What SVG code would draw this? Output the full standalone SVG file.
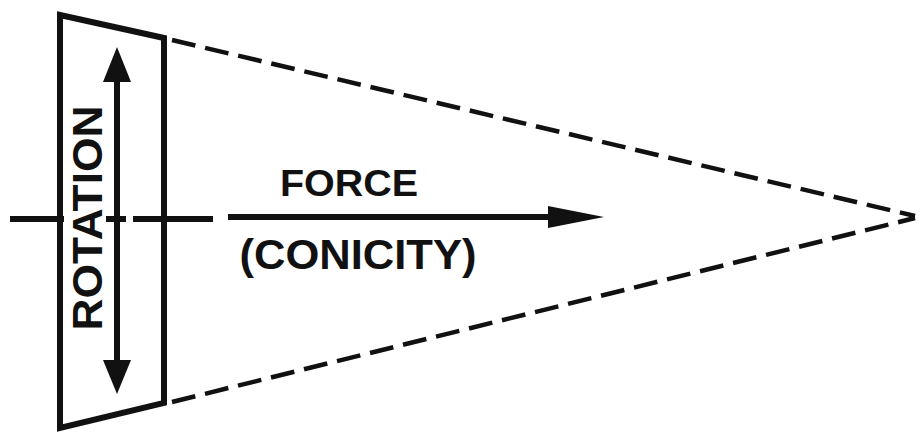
<svg xmlns="http://www.w3.org/2000/svg" width="920" height="433" viewBox="0 0 920 433">
<style>
.solid{stroke:#111;stroke-width:6;fill:none;stroke-linejoin:miter}
.axis{stroke:#111;stroke-width:6;fill:none}
.dash{stroke:#111;stroke-width:4.5;fill:none;stroke-dasharray:24 10}
.lbl{font-family:"Liberation Sans",Arial,sans-serif;font-weight:bold;fill:#111}
</style>
<rect width="920" height="433" fill="#fff"/>
<g id="disc">
<polygon class="solid" points="60,15 164,38 164,403 60,428"/>
</g>
<g id="rotation">
<line class="axis" x1="117" y1="75" x2="117" y2="368" stroke-width="5.5"/>
<polygon points="117,47 103,82 131,82" fill="#111"/>
<polygon points="117,394 103,360 131,360" fill="#111"/>
<text class="lbl" x="0" y="0" font-size="42" text-anchor="middle" textLength="225" lengthAdjust="spacingAndGlyphs" transform="translate(102,218) rotate(-90)">ROTATION</text>
</g>
<g id="force">
<line class="axis" x1="228" y1="217" x2="555" y2="217"/>
<polygon points="604,217 548,206 548,228" fill="#111"/>
<text class="lbl" x="349" y="196" font-size="36" text-anchor="middle" textLength="138" lengthAdjust="spacingAndGlyphs">FORCE</text>
<text class="lbl" x="358" y="269" font-size="42" text-anchor="middle" textLength="237" lengthAdjust="spacingAndGlyphs">(CONICITY)</text>
</g>
<g id="connectors">
<line class="axis" x1="10" y1="219" x2="64" y2="219"/>
<line class="axis" x1="106" y1="219" x2="126" y2="219"/>
<line class="axis" x1="133" y1="219" x2="213" y2="219"/>
<line class="dash" x1="172" y1="40" x2="915" y2="216"/>
<line class="dash" x1="172" y1="402" x2="915" y2="218"/>
</g>
</svg>
